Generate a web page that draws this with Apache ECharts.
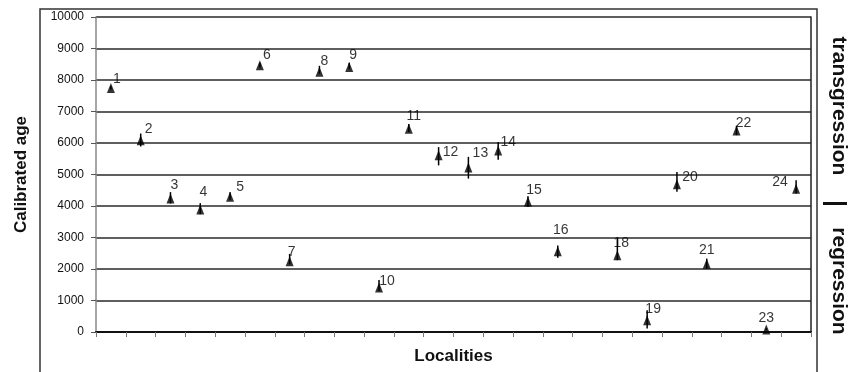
<!DOCTYPE html>
<html>
<head>
<meta charset="utf-8">
<script src="https://cdn.jsdelivr.net/npm/echarts@6/dist/echarts.min.js"></script>
<style>html,body{margin:0;padding:0;background:#fff;}#c{width:849px;height:372px;}</style>
</head>
<body>
<div id="c"></div>
<script>
// ---- data ----
var localities = ['1','2','3','4','5','6','7','8','9','10','11','12','13','14','15','16','17','18','19','20','21','22','23','24'];
var ages   = [7750, 6090, 4240, 3890, 4290, 8470, 2250, 8260, 8410, 1410, 6450, 5610, 5220, 5760, 4140, 2560, null, 2440, 370, 4690, 2170, 6400, 80, 4550];
var ageLow = [7700, 5890, 4080, 3740, 4200, 8400, 2150, 8200, 8350, 1300, 6350, 5290, 4870, 5470, 3970, 2360, null, 2280, 110, 4450, 2010, 6250, 60, 4400];
var ageHigh= [7800, 6300, 4440, 4090, 4440, 8550, 2480, 8450, 8550, 1650, 6600, 5870, 5560, 6030, 4310, 2750, null, 2970, 690, 5080, 2330, 6550, 120, 4820];
var yTicks = [0,1000,2000,3000,4000,5000,6000,7000,8000,9000,10000];

// ---- label placement (style) ----
var labelOffsets = [[6,-9],[8,-11],[4,-13],[3,-17],[10,-10],[7,-10],[2,-9],[5,-11],[4,-12],[8,-6],[5,-13],[12,-3],[12,-14],[10,-8],[6,-11],[3,-21],[0,0],[4,-12],[6,-11],[13,-7],[0,-14],[7,-7],[0,-11],[-16,-7]];

var font = 'Liberation Sans, Arial, sans-serif';
var chart = echarts.init(document.getElementById('c'));

var scatterData = [];
var errData = [];
for (var i = 0; i < localities.length; i++) {
  if (ages[i] == null) continue;
  scatterData.push({
    value: [i, ages[i]],
    label: { offset: labelOffsets[i] }
  });
  errData.push([i, ageLow[i], ageHigh[i]]);
}

chart.setOption({
  animation: false,
  backgroundColor: '#fff',
  grid: { left: 96, right: 38, top: 17, bottom: 40, containLabel: false },
  xAxis: {
    type: 'category',
    data: localities,
    boundaryGap: true,
    name: 'Localities',
    nameLocation: 'middle',
    nameGap: 16,
    nameTextStyle: { fontFamily: font, fontWeight: 'bold', fontSize: 17, color: '#111' },
    axisLine: { lineStyle: { color: '#111', width: 2 } },
    axisTick: { show: true, interval: 0, length: 5, lineStyle: { color: '#777', width: 1 } },
    axisLabel: { show: false },
    splitLine: { show: false }
  },
  yAxis: [{
    type: 'value',
    min: yTicks[0],
    max: yTicks[yTicks.length - 1],
    interval: 1000,
    name: 'Calibrated age',
    nameLocation: 'middle',
    nameGap: 66,
    nameRotate: 90,
    nameTextStyle: { fontFamily: font, fontWeight: 'bold', fontSize: 17, color: '#111' },
    axisLine: { show: true, lineStyle: { color: '#888', width: 1.5 } },
    axisTick: { show: true, length: 5, lineStyle: { color: '#555' } },
    axisLabel: { fontFamily: font, fontSize: 12, color: '#111', margin: 12, formatter: function (v) { return String(v); } },
    splitLine: { show: true, lineStyle: { color: '#2a2a2a', width: 1.5 } }
  }, {
    type: 'value',
    position: 'right',
    min: yTicks[0],
    max: yTicks[yTicks.length - 1],
    interval: 1000,
    axisLine: { show: true, lineStyle: { color: '#222', width: 1.5 } },
    axisTick: { show: false },
    axisLabel: { show: false },
    splitLine: { show: false }
  }],
  series: [{
    type: 'custom',
    data: errData,
    renderItem: function (params, api) {
      var x = api.value(0);
      var p1 = api.coord([x, api.value(1)]);
      var p2 = api.coord([x, api.value(2)]);
      return {
        type: 'line',
        shape: { x1: p1[0], y1: p1[1], x2: p2[0], y2: p2[1] },
        style: { stroke: '#000', lineWidth: 1.5 }
      };
    },
    z: 3
  }, {
    type: 'scatter',
    symbol: 'triangle',
    symbolSize: [8, 10],
    itemStyle: { color: '#000' },
    data: scatterData,
    label: {
      show: true,
      position: 'inside',
      formatter: function (p) { return localities[p.value[0]]; },
      fontFamily: font,
      fontSize: 14,
      color: '#000',
      textBorderWidth: 0
    },
    z: 4
  }],
  graphic: [
    { type: 'rect', shape: { x: 40, y: 9, width: 777, height: 380 }, style: { fill: 'none', stroke: '#333', lineWidth: 1.5 }, z: 0 },
    { type: 'text', x: 839, y: 106, rotation: -Math.PI / 2,
      style: { text: 'transgression', fontFamily: font, fontSize: 21, fontWeight: 'bold', fill: '#111', align: 'center', verticalAlign: 'middle' } },
    { type: 'text', x: 839, y: 281, rotation: -Math.PI / 2,
      style: { text: 'regression', fontFamily: font, fontSize: 21, fontWeight: 'bold', fill: '#111', align: 'center', verticalAlign: 'middle' } },
    { type: 'rect', shape: { x: 823, y: 202, width: 24, height: 3 }, style: { fill: '#111' } }
  ]
});
</script>
</body>
</html>
